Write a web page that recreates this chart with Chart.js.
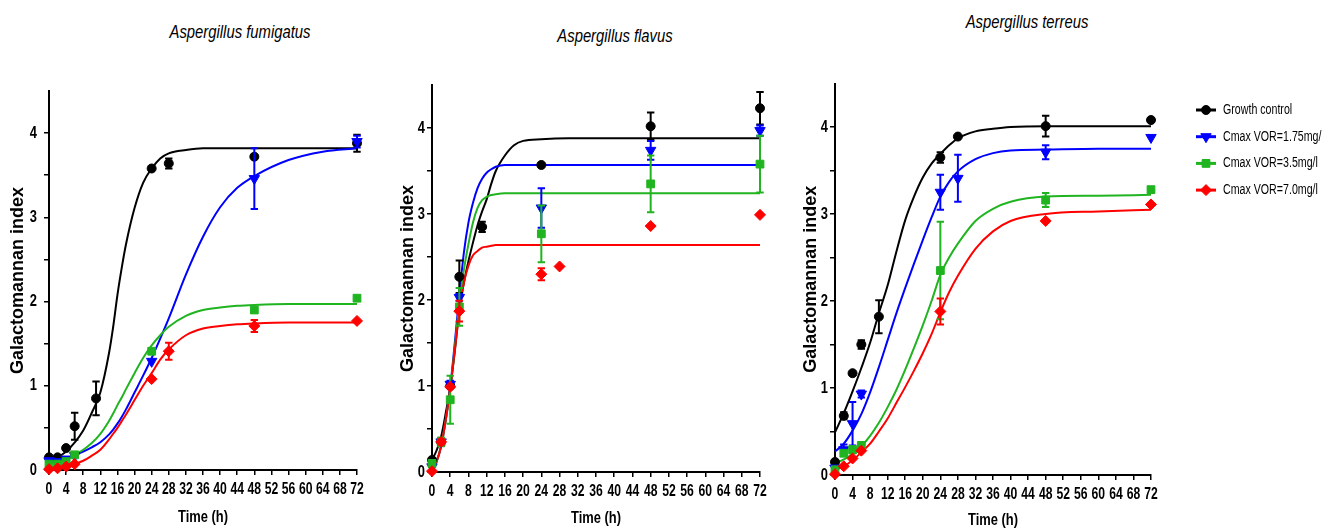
<!DOCTYPE html>
<html>
<head>
<meta charset="utf-8">
<script src="https://cdn.jsdelivr.net/npm/chart.js@4.4.0/dist/chart.umd.min.js"></script>
<style>
html,body{margin:0;padding:0;background:#fff}
#wrap{position:relative;width:1322px;height:531px;overflow:hidden}
canvas{position:absolute;top:0}
.ttl{position:absolute;font:italic 19px "Liberation Sans",Arial,sans-serif;transform:translate(-50%,-50%) scaleX(0.78);white-space:nowrap;color:#000}
</style>
</head>
<body>
<div id="wrap">
  <div class="ttl" style="left:240px;top:32px">Aspergillus fumigatus</div>
  <div class="ttl" style="left:615px;top:36px">Aspergillus flavus</div>
  <div class="ttl" style="left:1027px;top:22px">Aspergillus terreus</div>
  <canvas id="c1" width="400" height="531" style="left:0"></canvas>
  <canvas id="c2" width="400" height="531" style="left:390px"></canvas>
  <canvas id="c3" width="532" height="531" style="left:790px"></canvas>
</div>
<script>
const seriesNames = ['Growth control','Cmax VOR=1.75mg/l','Cmax VOR=3.5mg/l','Cmax VOR=7.0mg/l']
const timeTicks = [0,4,8,12,16,20,24,28,32,36,40,44,48,52,56,60,64,68,72]
const gmTicks = [0,0.5,1,1.5,2,2.5,3,3.5,4]

// A. fumigatus - measured points (mean, error)
const fumGcT = [0,2,4,6,11,24,28,48,72]
const fumGc = [0.15,0.15,0.26,0.52,0.85,3.58,3.64,3.72,3.88]
const fumGcErr = [0,0,0,0.16,0.2,0,0.06,0,0.1]
const fumT = [0,2,4,6,24,48,72]
const fum175 = [0.11,0.1,0.13,0.17,1.29,3.46,3.9]
const fum175Err = [0,0,0,0,0,0.36,0.07]
const fum35 = [0.07,0.07,0.1,0.18,1.41,1.9,2.04]
const fum35Err = [0,0,0,0,0,0,0]
const fum7T = [0,2,4,6,24,28,48,72]
const fum7 = [0.01,0.02,0.04,0.07,1.08,1.41,1.71,1.77]
const fum7Err = [0,0,0,0,0,0.1,0.07,0]
// A. fumigatus - fitted curves
const fumFitT = [0,4,8,10,12,14,15,16,17,18,20,22,24,26,28,32,36,40,44,48,56,64,72]
const fumFitGc = [0.1,0.22,0.47,0.68,0.92,1.38,1.7,2.08,2.4,2.68,3.11,3.41,3.58,3.7,3.76,3.8,3.82,3.82,3.82,3.82,3.82,3.82,3.82]
const fumFit175 = [0.1,0.14,0.22,0.27,0.33,0.42,0.48,0.55,0.63,0.72,0.92,1.12,1.33,1.56,1.8,2.32,2.77,3.12,3.35,3.49,3.68,3.78,3.82]
const fumFit35 = [0.08,0.13,0.24,0.32,0.43,0.58,0.67,0.77,0.86,0.96,1.15,1.33,1.48,1.6,1.7,1.83,1.9,1.93,1.95,1.96,1.97,1.97,1.97]
const fumFit7 = [0.02,0.04,0.11,0.17,0.24,0.36,0.43,0.5,0.58,0.66,0.83,1.0,1.15,1.31,1.43,1.6,1.68,1.71,1.73,1.74,1.75,1.75,1.75]

// A. flavus
const flaGcT = [0,2,4,6,11,24,48,72]
const flaGc = [0.14,0.35,1.0,2.27,2.85,3.57,4.02,4.23]
const flaGcErr = [0,0.04,0,0.19,0.06,0,0.16,0.19]
const flaT = [0,2,4,6,24,48,72]
const fla175 = [0.06,0.35,1.02,2.03,3.07,3.74,3.97]
const fla175Err = [0,0.04,0.04,0.04,0.23,0.11,0.06]
const fla35 = [0.1,0.35,0.84,1.92,2.77,3.35,3.58]
const fla35Err = [0,0.05,0.28,0.22,0.33,0.33,0.33]
const fla7T = [0,2,4,6,24,28,48,72]
const fla7 = [0.01,0.35,0.99,1.87,2.3,2.39,2.86,2.99]
const fla7Err = [0,0.03,0,0.12,0.07,0,0,0]
const flaFitT = [0,1,2,3,4,5,6,7,8,9,10,11,12,13,14,16,18,20,24,30,40,72]
const flaFitGc = [0.14,0.25,0.41,0.68,0.99,1.4,1.9,2.2,2.45,2.67,2.87,3.03,3.17,3.35,3.5,3.68,3.8,3.85,3.87,3.88,3.88,3.88]
const flaFit175 = [0.02,0.12,0.3,0.6,0.98,1.5,2.05,2.55,2.9,3.13,3.3,3.41,3.48,3.52,3.55,3.57,3.57,3.57,3.57,3.57,3.57,3.57]
const flaFit35 = [0.02,0.12,0.3,0.6,0.97,1.45,1.95,2.35,2.65,2.9,3.07,3.16,3.2,3.22,3.23,3.24,3.24,3.24,3.24,3.24,3.24,3.24]
const flaFit7 = [0,0.12,0.3,0.6,0.96,1.42,1.85,2.2,2.4,2.52,2.57,2.61,2.62,2.63,2.64,2.64,2.64,2.64,2.64,2.64,2.64,2.64]

// A. terreus
const terGcT = [0,2,4,6,10,24,28,48,72]
const terGc = [0.15,0.68,1.17,1.5,1.82,3.65,3.89,4.01,4.08]
const terGcErr = [0,0.04,0,0.05,0.19,0.06,0,0.12,0]
const ter175T = [0,2,4,6,24,28,48,72]
const ter175 = [0.08,0.29,0.59,0.93,3.25,3.41,3.71,3.88]
const ter175Err = [0,0.06,0.25,0.04,0.2,0.27,0.08,0]
const terT = [0,2,4,6,24,48,72]
const ter35 = [0.06,0.25,0.29,0.34,2.35,3.16,3.28]
const ter35Err = [0,0,0.04,0,0.56,0.08,0]
const ter7 = [0.01,0.1,0.19,0.28,1.88,2.92,3.11]
const ter7Err = [0,0,0,0,0.15,0,0]
const terFitT = [0,2,4,6,8,10,12,14,16,18,20,22,24,26,28,32,36,40,48,60,72]
const terFitGc = [0.49,0.71,0.96,1.23,1.52,1.86,2.18,2.57,2.93,3.2,3.42,3.58,3.69,3.79,3.87,3.95,3.98,4.0,4.01,4.01,4.01]
const terFit175 = [0.27,0.36,0.51,0.7,0.95,1.24,1.55,1.86,2.15,2.43,2.7,2.96,3.2,3.37,3.49,3.63,3.7,3.73,3.74,3.75,3.75]
const terFit35 = [0.13,0.18,0.24,0.33,0.45,0.6,0.78,0.98,1.21,1.46,1.72,2.0,2.3,2.5,2.66,2.92,3.06,3.14,3.2,3.21,3.22]
const terFit7 = [0.06,0.1,0.17,0.26,0.36,0.5,0.65,0.83,1.01,1.2,1.4,1.62,1.87,2.1,2.29,2.6,2.8,2.92,3.0,3.03,3.05]

const colors = ['#000000','#0000ff','#20b420','#ff0000']
const marks = [
  {pointStyle:'circle',pointRadius:4.5,rotation:0},
  {pointStyle:'triangle',pointRadius:6,rotation:180},
  {pointStyle:'rect',pointRadius:5.5,rotation:0},
  {pointStyle:'rectRot',pointRadius:5.5,rotation:0}
]
// "Narrow" in the family list marks text that gets squeezed (the figure uses a condensed face)
const NARROW = '"Liberation Sans Narrow","Liberation Sans",Arial,sans-serif'
const WIDE = '"Liberation Sans",Arial,sans-serif'
const SQUEEZE = 0.76

const xy = (xs,ys) => xs.map((x,i)=>({x,y:ys[i]}))

function pointSet(k,xs,ys,errs){
  return {label:seriesNames[k],legend:true,data:xy(xs,ys),errors:errs,showLine:false,
    backgroundColor:colors[k],borderColor:colors[k],borderWidth:1,
    pointStyle:marks[k].pointStyle,pointRadius:marks[k].pointRadius,rotation:marks[k].rotation,
    pointHoverRadius:marks[k].pointRadius,order:4-k,clip:false}
}
function curveSet(k,xs,ys){
  return {label:seriesNames[k]+' fit',data:xy(xs,ys),showLine:true,borderColor:colors[k],
    backgroundColor:colors[k],borderWidth:2,pointRadius:0,pointHoverRadius:0,
    cubicInterpolationMode:'monotone',order:10-k,clip:false}
}

const narrowText = {
  id:'narrowText',
  beforeInit(chart){
    const ctx = chart.ctx, fill = ctx.fillText
    ctx.fillText = function(t,x,y,mw){
      if(this.font.indexOf('Narrow') < 0) return fill.call(this,t,x,y,mw)
      const w = this.measureText(t).width*SQUEEZE
      return fill.call(this,t,x,y,mw === undefined ? w : Math.min(mw,w))
    }
  }
}

const errorBars = {
  id:'errorBars',
  afterDatasetDraw(chart,args){
    const ds = chart.data.datasets[args.index]
    if(!ds.errors) return
    const {ctx} = chart, x = chart.scales.x, y = chart.scales.y
    ctx.save()
    ctx.strokeStyle = ds.borderColor
    ctx.lineWidth = 2
    ds.data.forEach((p,i)=>{
      const e = ds.errors[i]
      if(!e) return
      const px = x.getPixelForValue(p.x)
      const top = y.getPixelForValue(p.y+e), bot = y.getPixelForValue(p.y-e)
      ctx.beginPath()
      ctx.moveTo(px,top); ctx.lineTo(px,bot)
      ctx.moveTo(px-3.7,top); ctx.lineTo(px+3.7,top)
      ctx.moveTo(px-3.7,bot); ctx.lineTo(px+3.7,bot)
      ctx.stroke()
    })
    ctx.restore()
  }
}

const sideLegend = {
  id:'sideLegend',
  afterDraw(chart,args,opts){
    if(!opts.show) return
    const ctx = chart.ctx
    chart.data.datasets.filter(d=>d.legend).forEach((d,i)=>{
      const yy = opts.top + i*opts.gap
      ctx.save()
      ctx.strokeStyle = d.borderColor
      ctx.fillStyle = d.backgroundColor
      ctx.lineWidth = 3
      ctx.beginPath()
      ctx.moveTo(opts.left,yy); ctx.lineTo(opts.left+opts.len,yy)
      ctx.stroke()
      ctx.lineWidth = 1
      Chart.helpers.drawPoint(ctx,{pointStyle:d.pointStyle,radius:d.pointRadius,rotation:d.rotation,borderWidth:1},opts.left+opts.len/2,yy)
      ctx.fillStyle = '#000'
      ctx.font = '14px ' + NARROW
      ctx.textBaseline = 'middle'
      ctx.fillText(d.label,opts.textX,yy)
      ctx.restore()
    })
  }
}

function makePanel(id,sets,lay){
  new Chart(document.getElementById(id),{
    type:'scatter',
    data:{datasets:sets},
    plugins:[narrowText,errorBars,sideLegend],
    options:{
      responsive:false,animation:false,
      layout:{padding:{left:0,top:lay.top,right:lay.right,bottom:0}},
      plugins:{legend:{display:false},tooltip:{enabled:false},
        sideLegend:lay.legend || {show:false}},
      scales:{
        x:{type:'linear',min:0,max:72,
          afterBuildTicks:s=>{s.ticks = timeTicks.map(v=>({value:v}))},
          afterFit:s=>{s.height = lay.xh},
          border:{display:true,color:'#000',width:2},
          grid:{drawOnChartArea:false,drawTicks:true,tickLength:5,color:'#000',lineWidth:1.5},
          ticks:{autoSkip:false,maxRotation:0,padding:5,color:'#000',font:{family:NARROW,size:16,weight:'bold'}},
          title:{display:true,text:'Time (h)',color:'#000',font:{family:NARROW,size:17,weight:'bold'},padding:{top:0,bottom:lay.xtp}}
        },
        y:{type:'linear',min:0,max:4.5,
          afterBuildTicks:s=>{s.ticks = gmTicks.map(v=>({value:v}))},
          afterFit:s=>{s.width = lay.yw},
          border:{display:true,color:'#000',width:2},
          grid:{drawOnChartArea:false,drawTicks:true,tickLength:5,color:'#000',lineWidth:1.5},
          ticks:{padding:lay.ytp,color:'#000',font:{family:NARROW,size:17,weight:'bold'},
            callback:v=>Number.isInteger(v)?String(v):''},
          title:{display:true,text:'Galactomannan index',color:'#000',font:{family:WIDE,size:18,weight:'bold'},padding:{top:lay.ytt,bottom:0}}
        }
      }
    }
  })
}

makePanel('c1',[
  curveSet(0,fumFitT,fumFitGc),curveSet(1,fumFitT,fumFit175),curveSet(2,fumFitT,fumFit35),curveSet(3,fumFitT,fumFit7),
  pointSet(0,fumGcT,fumGc,fumGcErr),pointSet(1,fumT,fum175,fum175Err),pointSet(2,fumT,fum35,fum35Err),pointSet(3,fum7T,fum7,fum7Err)
],{top:91,right:43,xh:61,yw:49,xtp:3,ytp:7,ytt:7})

makePanel('c2',[
  curveSet(0,flaFitT,flaFitGc),curveSet(1,flaFitT,flaFit175),curveSet(2,flaFitT,flaFit35),curveSet(3,flaFitT,flaFit7),
  pointSet(0,flaGcT,flaGc,flaGcErr),pointSet(1,flaT,fla175,fla175Err),pointSet(2,flaT,fla35,fla35Err),pointSet(3,fla7T,fla7,fla7Err)
],{top:85,right:30,xh:59,yw:42,xtp:2,ytp:2,ytt:7})

makePanel('c3',[
  curveSet(0,terFitT,terFitGc),curveSet(1,terFitT,terFit175),curveSet(2,terFitT,terFit35),curveSet(3,terFitT,terFit7),
  pointSet(0,terGcT,terGc,terGcErr),pointSet(1,ter175T,ter175,ter175Err),pointSet(2,terT,ter35,ter35Err),pointSet(3,terT,ter7,ter7Err)
],{top:83.5,right:171,xh:56,yw:45,xtp:0,ytp:2,ytt:10,
  legend:{show:true,left:406,len:20,top:110,gap:26.7,textX:433}})
</script>
</body>
</html>
